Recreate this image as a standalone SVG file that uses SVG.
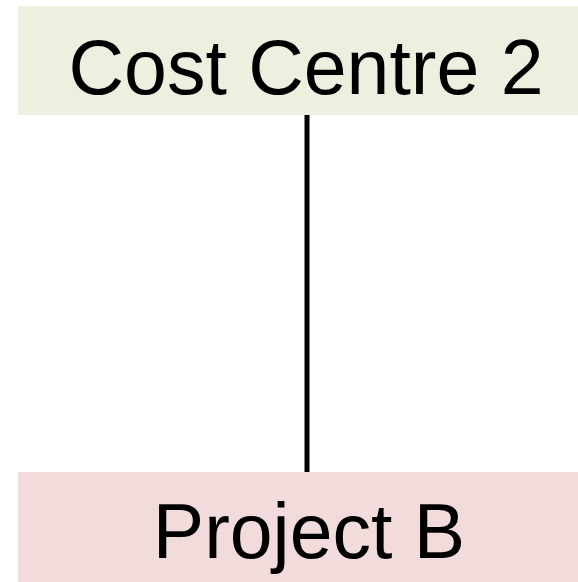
<svg xmlns="http://www.w3.org/2000/svg" width="578" height="582" viewBox="0 0 578 582">
<style>
text{font-family:"Liberation Sans",Arial,sans-serif;font-size:77px;fill:#000;text-anchor:middle}
</style>
<rect width="578" height="582" fill="#ffffff"/>
<g id="connectors">
<line x1="307" y1="115" x2="307" y2="472" stroke="#000" stroke-width="5"/>
</g>
<g id="cost-centre-2">
<rect x="18" y="6" width="560" height="109" fill="#ebf1de"/>
<text x="306" y="94">Cost Centre 2</text>
</g>
<g id="project-b">
<rect x="18" y="472" width="560" height="110" fill="#f2dcdb"/>
<text x="309" y="558">Project B</text>
</g>
</svg>
